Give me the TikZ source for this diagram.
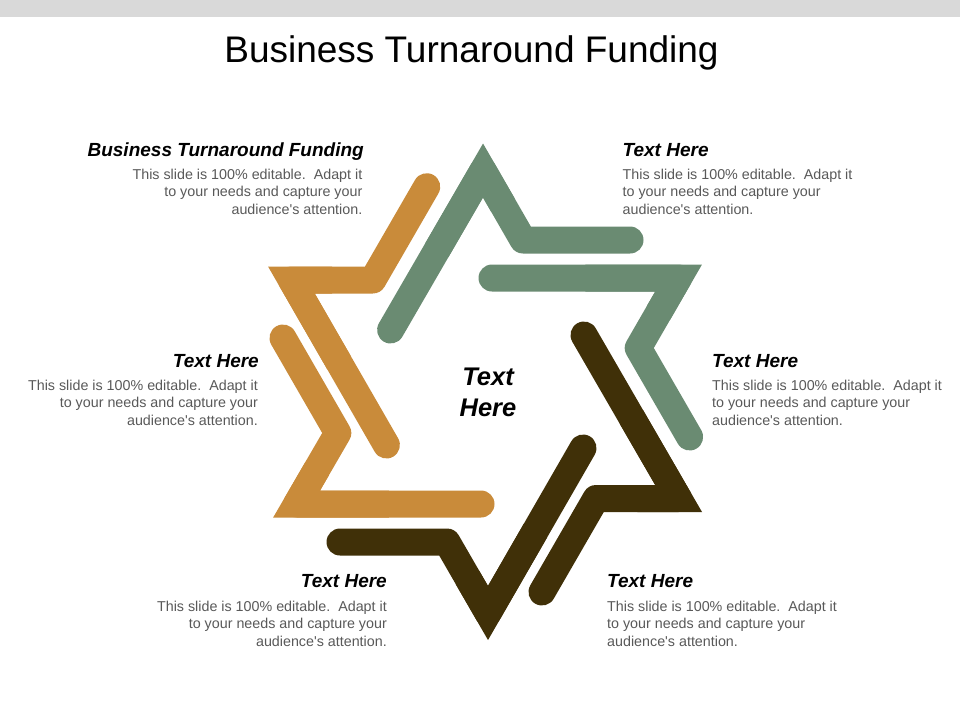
\documentclass[tikz,border=0pt]{standalone}
\usepackage{fontspec}
\setmainfont{Liberation Sans}
\definecolor{stargreen}{RGB}{106,139,114}
\definecolor{starorange}{RGB}{201,139,58}
\definecolor{starbrown}{RGB}{64,48,8}
\definecolor{bodygrey}{RGB}{89,89,89}
\definecolor{bargrey}{RGB}{217,217,217}
\newcommand{\bodycopy}{This slide is 100\% editable.\ \ Adapt it\\to your needs and capture your\\audience\textquotesingle s attention.}
\begin{document}
\begin{tikzpicture}[x=1pt,y=-1pt,
  band/.style={line width=27pt, line cap=round, line join=round},
  tipband/.style={line width=27pt, line cap=butt, line join=miter},
  head/.style={font=\fontsize{19}{22}\selectfont\bfseries\itshape, inner sep=0pt},
  bodytext/.style={font=\fontsize{14.3}{17.6}\selectfont, text=bodygrey, inner sep=0pt},
  centertext/.style={font=\fontsize{25.5}{31.7}\selectfont\bfseries\itshape, inner sep=0pt, align=center},
]
\useasboundingbox (0,0) rectangle (960,720);
\fill[white] (0,0) rectangle (960,720);
\fill[bargrey] (0,0) rectangle (960,16.5);
\node[font=\fontsize{37}{44}\selectfont, anchor=base, inner sep=0pt] (title) at (471.5,62.7) {Business Turnaround Funding};

% star bands (round joins at the inner notches)
\draw[band, stargreen] (390.6,330) -- (483,170.5) -- (523,240) -- (630,240);
\draw[band, stargreen] (492,278) -- (678.6,278) -- (638.2,348) -- (689.6,437);
\draw[band, starorange] (426.7,186.7) -- (372.8,280) -- (291.4,280) -- (386.4,445);
\draw[band, starorange] (283,338) -- (337.8,433) -- (296.6,504) -- (481,504);
\draw[band, starbrown] (584,335) -- (678.6,498.5) -- (596,498.5) -- (542,592);
\draw[band, starbrown] (340,542) -- (447,542) -- (488,613) -- (583,448);
% sharp outer star points
\draw[tipband, stargreen] (436.8,250.25) -- (483,170.5) -- (503,205.25);
\draw[tipband, stargreen] (585.3,278) -- (678.6,278) -- (658.4,313);
\draw[tipband, starorange] (332.1,280) -- (291.4,280) -- (338.9,362.5);
\draw[tipband, starorange] (317.2,468.5) -- (296.6,504) -- (388.8,504);
\draw[tipband, starbrown] (631.3,416.75) -- (678.6,498.5) -- (637.3,498.5);
\draw[tipband, starbrown] (467.5,577.5) -- (488,613) -- (535.5,530.5);

% centre text
\node[centertext, anchor=base] (centre) at (488,416.7) {Text\\Here};

% top left
\node[head, anchor=base east] (h1) at (364,156.5) {Business Turnaround Funding};
\node[bodytext, anchor=north east, align=right] (b1) at (362.5,168.6) {\bodycopy};
% top right
\node[head, anchor=base west] (h2) at (622.5,156.5) {Text Here};
\node[bodytext, anchor=north west, align=left] (b2) at (622.5,168.6) {\bodycopy};
% middle left
\node[head, anchor=base east] (h3) at (259,367) {Text Here};
\node[bodytext, anchor=north east, align=right] (b3) at (258,379.6) {\bodycopy};
% middle right
\node[head, anchor=base west] (h4) at (712,367) {Text Here};
\node[bodytext, anchor=north west, align=left] (b4) at (712,379.6) {\bodycopy};
% bottom left
\node[head, anchor=base east] (h5) at (387,587.5) {Text Here};
\node[bodytext, anchor=north east, align=right] (b5) at (387,600.6) {\bodycopy};
% bottom right
\node[head, anchor=base west] (h6) at (607,587.5) {Text Here};
\node[bodytext, anchor=north west, align=left] (b6) at (607,600.6) {\bodycopy};
\end{tikzpicture}
\end{document}
